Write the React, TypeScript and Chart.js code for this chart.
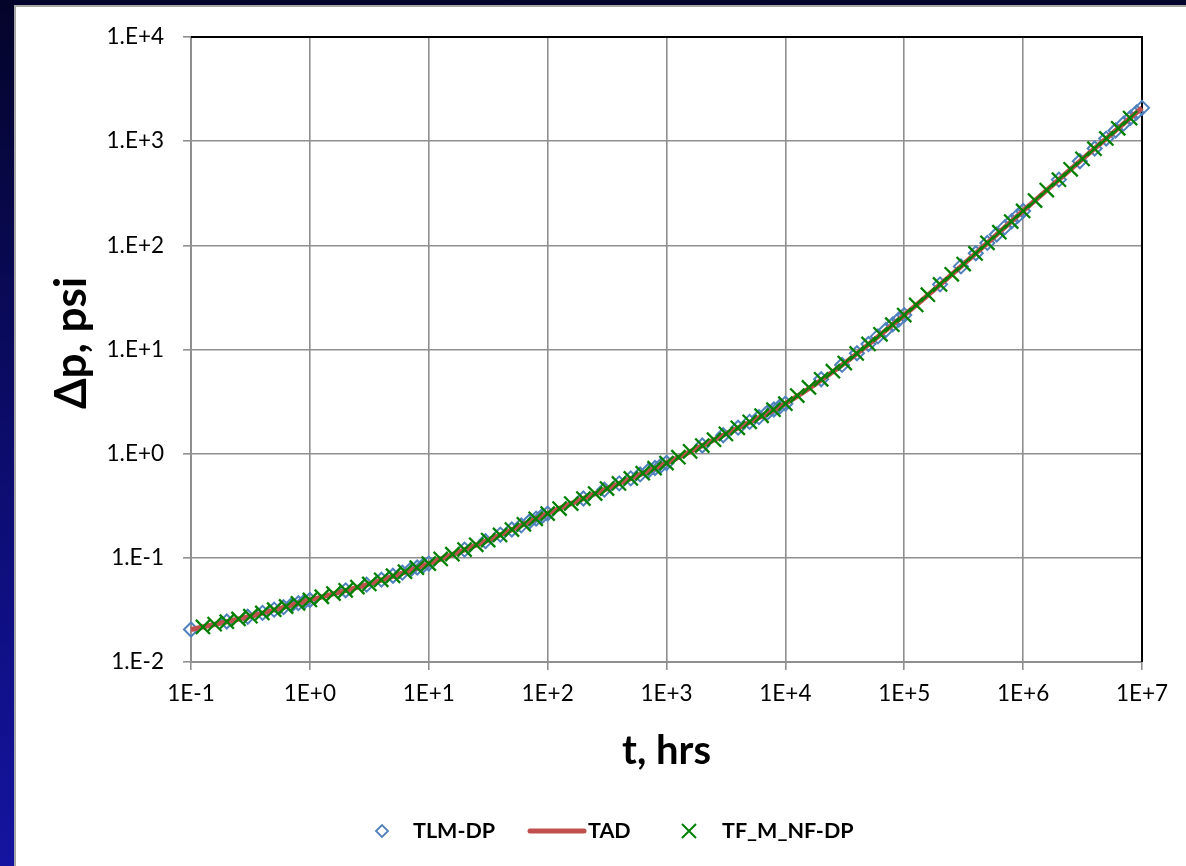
import React, { useEffect, useRef } from 'react';
import { Chart, registerables } from 'chart.js';

Chart.register(...registerables);

// ---- Data ----
const tlmT = [
  0.1, 0.2, 0.3, 0.4, 0.5, 0.6, 0.7, 0.8, 0.9,
  1, 2, 3, 4, 5, 6, 7, 8, 9,
  10, 20, 30, 40, 50, 60, 70, 80, 90,
  100, 200, 300, 400, 500, 600, 700, 800, 900,
  1000, 2000, 3000, 4000, 5000, 6000, 7000, 8000, 9000,
  10000, 20000, 30000, 40000, 50000, 60000, 70000, 80000, 90000,
  100000, 200000, 300000, 400000, 500000, 600000, 700000, 800000, 900000,
  1000000, 2000000, 3000000, 4000000, 5000000, 6000000, 7000000, 8000000, 9000000,
  10000000,
];
const tlmDp = [
  0.0205, 0.0245, 0.0272, 0.0296, 0.0318, 0.0336, 0.0352, 0.0367, 0.0381,
  0.0394, 0.0488, 0.0553, 0.0617, 0.0673, 0.0721, 0.0767, 0.0807, 0.0845,
  0.0881, 0.12, 0.1445, 0.167, 0.187, 0.205, 0.222, 0.238, 0.252,
  0.266, 0.371, 0.451, 0.519, 0.579, 0.632, 0.682, 0.729, 0.772,
  0.813, 1.198, 1.503, 1.775, 2.018, 2.244, 2.455, 2.653, 2.84,
  3.02, 5.185, 7.11, 9.2, 11.3, 13.36, 15.4, 17.4, 19.4,
  21.4, 42.2, 62.8, 83.9, 105.4, 127, 148.6, 170.2, 191.9,
  213.8, 427.6, 641, 851, 1059, 1266, 1472, 1679, 1884,
  2089,
];

const tadT = [0.1, 0.316, 1, 3.16, 10, 31.6, 100, 316, 1000, 3160, 10000, 31600, 100000, 316000, 1000000, 3160000, 10000000];
const tadDp = [0.0205, 0.0275, 0.0394, 0.0562, 0.0881, 0.148, 0.266, 0.462, 0.813, 1.549, 3.02, 7.41, 21.4, 66.1, 214, 676, 2089];

const tfT = [
  0.126, 0.158, 0.2, 0.251, 0.316, 0.398, 0.501, 0.631, 0.794, 1,
  1.26, 1.58, 2, 2.51, 3.16, 3.98, 5.01, 6.31, 7.94, 10,
  12.6, 15.8, 20, 25.1, 31.6, 39.8, 50.1, 63.1, 79.4, 100,
  126, 158, 200, 251, 316, 398, 501, 631, 794, 1000,
  1260, 1580, 2000, 2510, 3160, 3980, 5010, 6310, 7940, 10000,
  12600, 15800, 20000, 25100, 31600, 39800, 50100, 63100, 79400, 100000,
  126000, 158000, 200000, 251000, 316000, 398000, 501000, 631000, 794000, 1000000,
  1260000, 1580000, 2000000, 2510000, 3160000, 3980000, 5010000, 6310000, 7940000,
];
const tfDp = [
  0.0217, 0.0231, 0.0244, 0.0259, 0.0275, 0.0296, 0.0318, 0.0341, 0.0366, 0.0394,
  0.0423, 0.0454, 0.0488, 0.0524, 0.0562, 0.0615, 0.0673, 0.0736, 0.0805, 0.0881,
  0.0977, 0.1084, 0.12, 0.1334, 0.148, 0.166, 0.187, 0.21, 0.237, 0.266,
  0.297, 0.332, 0.371, 0.414, 0.462, 0.518, 0.579, 0.649, 0.726, 0.813,
  0.925, 1.052, 1.197, 1.361, 1.549, 1.77, 2.023, 2.312, 2.642, 3.02,
  3.614, 4.325, 5.176, 6.194, 7.413, 9.162, 11.32, 14.0, 17.3, 21.4,
  26.8, 33.6, 42.1, 52.7, 66.1, 83.6, 105.7, 133.7, 169, 214,
  269, 339, 427, 537, 676, 847, 1062, 1330, 1667,
];

const xTickValues = [0.1, 1, 10, 100, 1000, 10000, 100000, 1000000, 10000000];
const yTickValues = [0.01, 0.1, 1, 10, 100, 1000, 10000];

const seriesNames = ['TLM-DP', 'TAD', 'TF_M_NF-DP'];
const xTitle = 't, hrs';
const yTitle = 'Δp, psi';

const BLUE = '#4F81BD';
const RED = '#C0504D';
const GREEN = '#008000';
const GRID = '#8f8f8f';
const FONT = 'Lato, "Open Sans", sans-serif';

function expOf(v: number) {
  return Math.round(Math.log10(v));
}

const decorPlugin = {
  id: 'decor',
  beforeDatasetsDraw(chart: any) {
    const { ctx, chartArea: a } = chart;
    ctx.save();
    ctx.strokeStyle = '#000';
    ctx.lineWidth = 2;
    ctx.beginPath();
    ctx.moveTo(a.left, a.top);
    ctx.lineTo(a.right, a.top);
    ctx.lineTo(a.right, a.bottom);
    ctx.stroke();
    ctx.restore();
  },
  afterDraw(chart: any) {
    const { ctx, chartArea: a } = chart;
    ctx.save();
    ctx.fillStyle = '#000';
    // axis titles
    ctx.textAlign = 'center';
    ctx.textBaseline = 'middle';
    ctx.font = `bold 40px ${FONT}`;
    ctx.fillText(xTitle, (a.left + a.right) / 2, 751);
    ctx.save();
    ctx.font = `bold 44px ${FONT}`;
    ctx.translate(72, 343);
    ctx.rotate(-Math.PI / 2);
    ctx.fillText(yTitle, 0, 0);
    ctx.restore();

    // legend
    const ly = 831;
    ctx.font = `bold 21.5px ${FONT}`;
    ctx.textAlign = 'left';
    // diamond
    ctx.strokeStyle = BLUE;
    ctx.lineWidth = 1.8;
    ctx.beginPath();
    const dx = 382, r = 6;
    ctx.moveTo(dx - r, ly);
    ctx.lineTo(dx, ly - r);
    ctx.lineTo(dx + r, ly);
    ctx.lineTo(dx, ly + r);
    ctx.closePath();
    ctx.stroke();
    ctx.fillText(seriesNames[0], 413, ly);
    // red line
    ctx.strokeStyle = RED;
    ctx.lineWidth = 5;
    ctx.lineCap = 'round';
    ctx.beginPath();
    ctx.moveTo(530, ly);
    ctx.lineTo(584, ly);
    ctx.stroke();
    ctx.fillText(seriesNames[1], 588, ly);
    // green x
    ctx.strokeStyle = GREEN;
    ctx.lineWidth = 2;
    ctx.lineCap = 'butt';
    const gx = 689, g = 7;
    ctx.beginPath();
    ctx.moveTo(gx - g, ly - g);
    ctx.lineTo(gx + g, ly + g);
    ctx.moveTo(gx + g, ly - g);
    ctx.lineTo(gx - g, ly + g);
    ctx.stroke();
    ctx.fillText(seriesNames[2], 722, ly);
    ctx.restore();
  },
};

export default function App() {
  const canvasRef = useRef<HTMLCanvasElement | null>(null);

  useEffect(() => {
    const canvas = canvasRef.current;
    if (!canvas) return;
    const tickFont = { family: FONT, size: 22.5 };
    const chart = new Chart(canvas, {
      type: 'line',
      data: {
        datasets: [
          {
            label: seriesNames[0],
            data: tlmT.map((t, i) => ({ x: t, y: tlmDp[i] })),
            showLine: false,
            pointStyle: 'rectRot',
            pointRadius: 7,
            pointBorderColor: BLUE,
            pointBackgroundColor: 'rgba(0,0,0,0)',
            pointBorderWidth: 2,
            borderColor: BLUE,
            order: 3,
            clip: false,
          } as any,
          {
            label: seriesNames[1],
            data: tadT.map((t, i) => ({ x: t, y: tadDp[i] })),
            borderColor: RED,
            borderWidth: 5,
            pointRadius: 0,
            cubicInterpolationMode: 'monotone',
            order: 2,
            clip: false,
          } as any,
          {
            label: seriesNames[2],
            data: tfT.map((t, i) => ({ x: t, y: tfDp[i] })),
            showLine: false,
            pointStyle: 'crossRot',
            pointRadius: 10,
            pointBorderColor: GREEN,
            pointBorderWidth: 2.3,
            borderColor: GREEN,
            order: 1,
            clip: false,
          } as any,
        ],
      },
      options: {
        responsive: false,
        animation: false,
        devicePixelRatio: 1,
        layout: { padding: { left: 0, top: 37, right: 44, bottom: 0 } },
        plugins: { legend: { display: false }, tooltip: { enabled: false } },
        scales: {
          x: {
            type: 'logarithmic',
            position: 'bottom',
            min: 0.1,
            max: 10000000,
            afterBuildTicks: (scale: any) => {
              scale.ticks = xTickValues.map((v) => ({ value: v }));
            },
            afterFit: (scale: any) => {
              scale.height = 866 - 662;
            },
            ticks: {
              autoSkip: false,
              maxRotation: 0,
              minRotation: 0,
              padding: 10,
              color: '#000',
              font: tickFont,
              callback: (v: any) => {
                const e = expOf(Number(v));
                return '1E' + (e < 0 ? '-' : '+') + Math.abs(e);
              },
            },
            grid: { color: GRID, lineWidth: 1.6, tickLength: 8, tickColor: GRID, tickWidth: 1.6 },
            border: { color: GRID, width: 2 },
          },
          y: {
            type: 'logarithmic',
            position: 'left',
            min: 0.01,
            max: 10000,
            afterBuildTicks: (scale: any) => {
              scale.ticks = yTickValues.map((v) => ({ value: v }));
            },
            afterFit: (scale: any) => {
              scale.width = 191;
            },
            ticks: {
              autoSkip: false,
              padding: 19,
              color: '#000',
              font: tickFont,
              callback: (v: any) => {
                const e = expOf(Number(v));
                return '1.E' + (e < 0 ? '-' : '+') + Math.abs(e);
              },
            },
            grid: { color: GRID, lineWidth: 1.6, tickLength: 8, tickColor: GRID, tickWidth: 1.6 },
            border: { color: GRID, width: 2 },
          },
        },
      } as any,
      plugins: [decorPlugin],
    });
    return () => chart.destroy();
  }, []);

  return (
    <div
      style={{
        position: 'fixed',
        left: 0,
        top: 0,
        width: 1186,
        height: 866,
        overflow: 'hidden',
        background: 'linear-gradient(to bottom, #04042a 0%, #0a0a5e 40%, #0f0f82 70%, #1414a0 100%)',
      }}
    >
      <div
        style={{
          position: 'absolute',
          left: 14,
          top: 5,
          right: 0,
          bottom: 0,
          background: '#ffffff',
          borderLeft: '2px solid #a6a6a6',
          borderTop: '2px solid #a6a6a6',
        }}
      />
      <canvas
        ref={canvasRef}
        width={1186}
        height={866}
        style={{ position: 'absolute', left: 0, top: 0, width: 1186, height: 866 }}
      />
    </div>
  );
}
